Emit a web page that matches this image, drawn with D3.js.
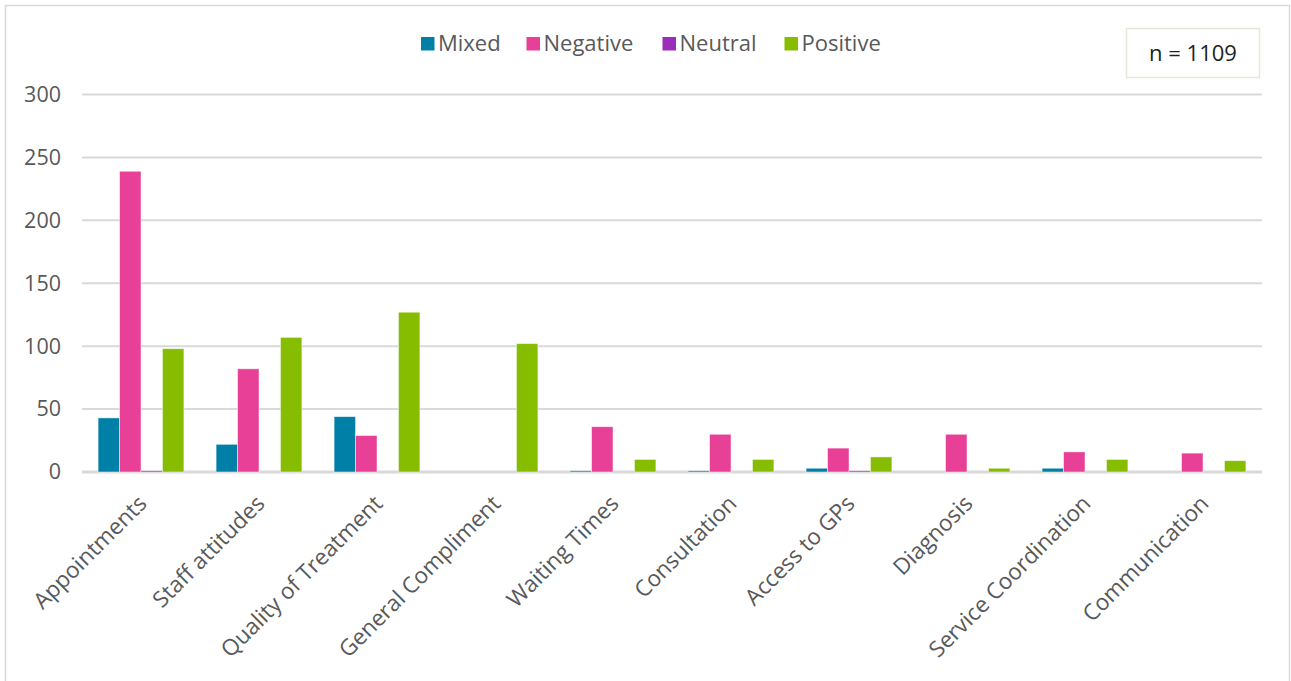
<!DOCTYPE html>
<html>
<head>
<meta charset="utf-8">
<script src="https://cdn.jsdelivr.net/npm/d3@7"></script>
<style>
  html, body { margin: 0; padding: 0; background: #fff; }
  svg { display: block; font-family: "Open Sans", "DejaVu Sans", sans-serif; }
</style>
</head>
<body>
<svg id="chart" width="1291" height="681"></svg>
<script>
// Feedback themes by sentiment
const categories = ["Appointments", "Staff attitudes", "Quality of Treatment", "General Compliment",
  "Waiting Times", "Consultation", "Access to GPs", "Diagnosis", "Service Coordination", "Communication"];
const seriesNames = ["Mixed", "Negative", "Neutral", "Positive"];
const mixed    = [43, 22, 44, 0, 1, 1, 3, 0, 3, 0];
const negative = [239, 82, 29, 0, 36, 30, 19, 30, 16, 15];
const neutral  = [1, 0, 0, 0, 0, 0, 1, 0, 0, 0];
const positive = [98, 107, 127, 102, 10, 10, 12, 3, 10, 9];
const yTicks = [0, 50, 100, 150, 200, 250, 300];
const sampleLabel = "n = 1109";

const colors = ["#0080A7", "#E83F97", "#9B2DBA", "#86BD00"];
const seriesValues = [mixed, negative, neutral, positive];

const svg = d3.select("#chart");

// outer chart border
svg.append("rect")
  .attr("x", 5.5).attr("y", 5.5).attr("width", 1284).attr("height", 700)
  .attr("fill", "#fff").attr("stroke", "#d9d9d9").attr("stroke-width", 1.5);

const margin = { left: 82, right: 1262, top: 94.5, bottom: 472 };

const x = d3.scaleBand().domain(categories).range([margin.left, margin.right]);
const xs = d3.scaleBand().domain(seriesNames).range([0, x.bandwidth()]).paddingInner(0).paddingOuter(0.75);
const y = d3.scaleLinear().domain([0, 300]).range([margin.bottom, margin.top]);

// gridlines
svg.append("g").selectAll("line").data(yTicks).join("line")
  .attr("x1", margin.left).attr("x2", margin.right)
  .attr("y1", d => y(d)).attr("y2", d => y(d))
  .attr("stroke", "#d9d9d9").attr("stroke-width", d => d === 0 ? 3 : 2);

// y axis labels
const yAxis = d3.axisLeft(y).tickValues(yTicks).tickSize(0).tickPadding(0);
const ya = svg.append("g").attr("transform", `translate(${margin.left - 21},0)`).call(yAxis);
ya.select(".domain").remove();
ya.selectAll("text").attr("fill", "#595959").style("font-size", "21.5px")
  .style("font-family", "\"Open Sans\", sans-serif");

// bars
const groups = svg.append("g").selectAll("g").data(categories).join("g")
  .attr("transform", d => `translate(${x(d)},0)`);
groups.selectAll("rect")
  .data((c, i) => seriesNames.map((s, k) => ({ s, k, v: seriesValues[k][i] })))
  .join("rect")
  .filter(d => d.v > 0)
  .attr("x", d => xs(d.s))
  .attr("width", xs.bandwidth())
  .attr("y", d => y(d.v))
  .attr("height", d => y(0) - y(d.v))
  .attr("fill", d => colors[d.k])
  .attr("stroke", "#fff").attr("stroke-width", 0.8).attr("stroke-opacity", 0.6);

// x axis labels, rotated
svg.append("g").selectAll("text").data(categories).join("text")
  .attr("transform", d => `translate(${x(d) + x.bandwidth() / 2 + 7},${margin.bottom + 33}) rotate(-45)`)
  .attr("text-anchor", "end")
  .attr("fill", "#595959")
  .style("font-size", "22.5px")
  .text(d => d);

// legend
const legend = svg.append("g").attr("transform", "translate(421,43.5)");
const legendX = [0, 105.5, 241.5, 363.5];
const items = legend.selectAll("g").data(seriesNames).join("g")
  .attr("transform", (d, i) => `translate(${legendX[i]},0)`);
items.append("rect").attr("x", 0).attr("y", -6.5).attr("width", 13.5).attr("height", 13.5)
  .attr("fill", (d, i) => colors[i]);
items.append("text").attr("x", 17).attr("y", 0).attr("dy", "0.33em")
  .attr("fill", "#595959").style("font-size", "22px").text(d => d);

// sample size box
const nb = svg.append("g");
nb.append("rect").attr("x", 1126.5).attr("y", 28.5).attr("width", 133).attr("height", 49)
  .attr("fill", "#fff").attr("stroke", "#e8e6da").attr("stroke-width", 1.5);
nb.append("text").attr("x", 1193).attr("y", 53).attr("dy", "0.35em")
  .attr("text-anchor", "middle").attr("fill", "#222").style("font-size", "22px")
  .style("font-family", "\"Open Sans\", sans-serif").text(sampleLabel);
</script>
</body>
</html>
